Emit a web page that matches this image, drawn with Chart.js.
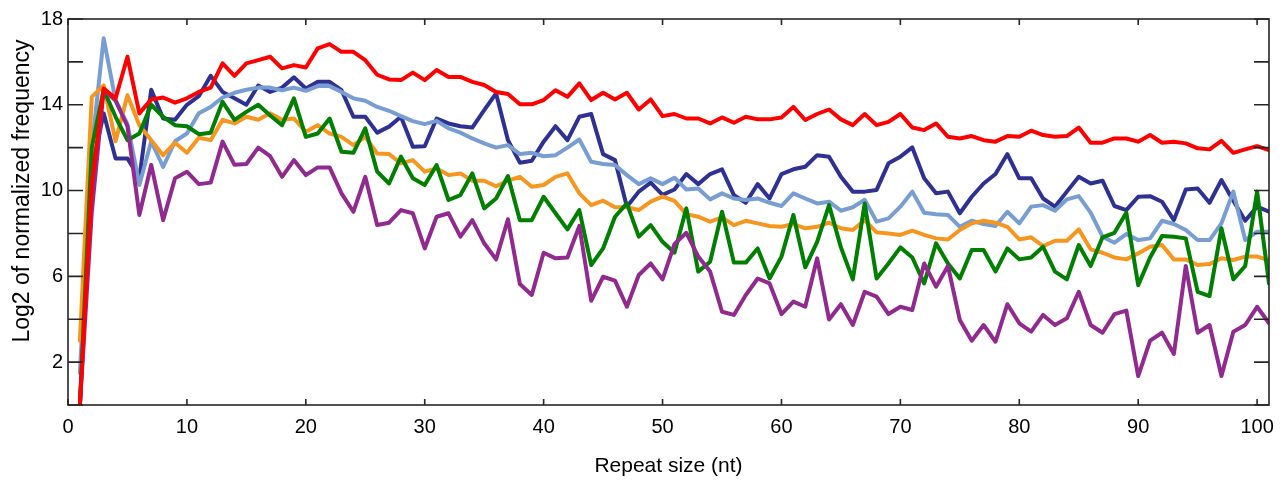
<!DOCTYPE html>
<html>
<head>
<meta charset="utf-8">
<script src="https://cdn.jsdelivr.net/npm/chart.js@4.4.1/dist/chart.umd.min.js"></script>
<style>
html,body{margin:0;padding:0;background:#fff;}
#wrap{width:1287px;height:481px;position:relative;}
</style>
</head>
<body>
<div id="wrap"><canvas id="c" width="1287" height="481"></canvas></div>
<script>
const repeatSizes = [1,2,3,4,5,6,7,8,9,10,11,12,13,14,15,16,17,18,19,20,21,22,23,24,25,26,27,28,29,30,31,32,33,34,35,36,37,38,39,40,41,42,43,44,45,46,47,48,49,50,51,52,53,54,55,56,57,58,59,60,61,62,63,64,65,66,67,68,69,70,71,72,73,74,75,76,77,78,79,80,81,82,83,84,85,86,87,88,89,90,91,92,93,94,95,96,97,98,99,100,101];

const redSeries = [0,10.3,14.76,14.3,16.24,13.6,14.25,14.34,14.1,14.3,14.6,14.8,15.93,15.35,15.93,16.08,16.24,15.7,15.85,15.74,16.63,16.83,16.47,16.47,16.08,15.4,15.18,15.15,15.5,15.15,15.62,15.3,15.3,15.07,14.92,14.6,14.5,14.02,14.02,14.22,14.68,14.37,15.0,14.22,14.56,14.25,14.56,13.78,14.25,13.47,13.57,13.36,13.36,13.13,13.41,13.16,13.44,13.32,13.32,13.41,13.9,13.29,13.57,13.78,13.32,13.05,13.57,13.05,13.2,13.57,12.94,12.82,13.13,12.51,12.43,12.54,12.35,12.28,12.54,12.51,12.79,12.59,12.51,12.54,12.94,12.23,12.23,12.43,12.43,12.28,12.59,12.23,12.28,12.2,11.97,11.92,12.32,11.76,11.92,12.07,11.89];

const navySeries = [0,11,13.6,11.5,11.5,10.6,14.7,13.36,13.3,14.0,14.4,15.35,14.6,14.3,14.0,14.9,14.6,14.8,15.28,14.76,15.07,15.07,14.68,13.44,13.44,12.7,12.98,13.44,12.04,12.07,13.36,13.13,13.0,12.94,13.75,14.53,12.35,11.3,11.39,12.28,13.0,12.35,13.44,13.57,11.7,11.42,9.25,9.95,10.37,9.8,10.05,10.77,10.3,10.77,10.99,9.79,9.43,10.3,9.63,10.77,10.99,11.11,11.65,11.58,10.64,9.95,9.95,10.03,11.27,11.58,12.01,10.57,9.87,9.95,8.94,9.71,10.33,10.77,11.7,10.57,10.57,9.63,9.25,9.95,10.64,10.33,10.46,9.28,9.09,9.71,9.74,9.48,8.62,10.05,10.1,9.43,10.49,9.53,8.59,9.25,9.01];

const lightBlueSeries = [1.5,12,17.1,14.2,13.1,10.26,12.3,11.1,12.3,12.66,13.6,13.9,14.34,14.56,14.7,14.8,14.8,14.68,14.8,14.65,14.87,14.87,14.6,14.3,14.19,13.9,13.72,13.47,13.24,13.1,13.25,12.9,12.7,12.43,12.2,12.0,12.12,11.7,11.76,11.6,11.65,12.0,12.38,11.34,11.24,11.19,10.72,10.3,10.57,10.3,10.6,10.05,10.1,9.59,9.87,9.63,9.56,9.63,9.43,9.28,9.87,9.63,9.4,9.48,9.06,9.22,9.57,8.55,8.7,9.25,9.95,8.97,8.9,8.86,8.31,8.59,8.44,8.35,9.01,8.47,9.25,9.32,9.06,9.59,9.74,8.97,7.85,7.57,7.97,7.69,7.77,8.59,8.44,8.16,7.69,7.69,8.47,9.95,7.69,8.08,8.08];

const orangeSeries = [3,14.37,14.9,12.3,14.45,13.05,12.35,11.65,12.23,11.76,12.46,12.35,13.3,13.13,13.44,13.3,13.6,13.3,13.36,12.74,13.05,12.66,12.5,12.12,12.5,11.73,11.7,11.27,11.42,10.88,11.03,10.72,10.8,10.46,10.46,10.2,10.46,10.64,10.18,10.26,10.64,10.8,9.87,9.32,9.53,9.22,9.22,9.09,9.48,9.72,9.52,8.9,8.78,8.55,8.75,8.39,8.59,8.47,8.35,8.31,8.44,8.24,8.31,8.5,8.24,8.16,8.62,8.05,8.0,7.93,8.13,7.93,7.77,7.72,8.16,8.47,8.59,8.5,8.31,7.72,7.82,7.41,7.66,7.66,8.19,7.26,7.1,6.88,6.79,7.07,7.38,7.46,6.79,6.79,6.53,6.57,6.84,6.76,6.92,6.92,6.76];

const greenSeries = [0,12,14.7,13.44,12.35,12.66,14.0,13.44,13.05,13.0,12.63,12.7,14.14,13.3,13.67,14.0,13.5,13.05,14.3,12.5,12.66,13.36,11.81,11.76,12.9,10.88,10.33,11.58,10.57,10.26,11.19,9.56,9.79,10.8,9.17,9.63,10.68,8.62,8.62,9.71,8.94,8.19,9.09,6.53,7.3,8.78,9.4,7.85,8.39,7.61,7.1,9.17,6.22,6.68,9.01,6.64,6.64,7.3,5.9,6.92,8.86,6.42,7.61,9.32,7.35,5.86,9.4,5.9,6.6,7.35,6.88,5.67,7.54,6.6,5.9,7.23,7.23,6.22,7.3,6.79,6.88,7.38,6.22,5.86,7.46,6.48,7.82,8.03,8.97,5.59,6.88,7.88,7.85,7.77,5.28,5.08,8.24,5.86,6.48,9.95,5.67];

const purpleSeries = [0,9,14.7,14.2,13.0,8.86,11.2,8.62,10.57,10.88,10.3,10.37,12.28,11.2,11.24,12.0,11.6,10.64,11.42,10.72,11.08,11.08,9.87,9.01,10.64,8.39,8.5,9.09,8.94,7.3,8.78,8.94,7.85,8.62,7.54,6.79,8.66,5.64,5.13,7.1,6.84,6.88,8.35,4.86,5.98,5.8,4.58,6.06,6.6,5.86,7.5,8.03,6.92,6.22,4.35,4.2,5.13,5.9,5.67,4.24,4.82,4.58,6.84,3.99,4.7,3.73,5.28,5.05,4.24,4.58,4.43,6.6,5.52,6.48,3.96,3.0,3.73,2.95,4.7,3.81,3.42,4.2,3.73,4.04,5.28,3.73,3.37,4.24,4.4,1.35,3.0,3.37,2.38,6.48,3.37,3.73,1.35,3.42,3.73,4.58,3.81];

const xTickLabels = [0,10,20,30,40,50,60,70,80,90,100];
const yTickLabels = [2,6,10,14,18];
const yTickMarks = [0,2,4,6,8,10,12,14,16,18];

const xTitle = 'Repeat size (nt)';
const yTitle = 'Log2 of normalized frequency';

const FONT = "'Liberation Sans', Arial, Helvetica, sans-serif";

function series(values, color) {
  return {
    data: values.map((v, i) => ({x: repeatSizes[i], y: v})),
    borderColor: color,
    backgroundColor: color,
    borderWidth: 4,
    pointRadius: 0,
    tension: 0,
    borderJoinStyle: 'round',
    borderCapStyle: 'round',
    fill: false
  };
}

const framePlugin = {
  id: 'frame',
  afterDatasetsDraw(chart) {
    const {ctx, chartArea: a, scales} = chart;
    const x = scales.x, y = scales.y;
    ctx.save();
    ctx.strokeStyle = '#262626';
    ctx.lineWidth = 1.6;
    ctx.strokeRect(a.left, a.top, a.right - a.left, a.bottom - a.top);
    ctx.beginPath();
    xTickLabels.forEach(v => {
      const px = x.getPixelForValue(v);
      ctx.moveTo(px, a.bottom); ctx.lineTo(px, a.bottom - 6);
      ctx.moveTo(px, a.top); ctx.lineTo(px, a.top + 6);
    });
    yTickMarks.forEach(v => {
      const py = y.getPixelForValue(v);
      ctx.moveTo(a.left, py); ctx.lineTo(a.left + 15, py);
      ctx.moveTo(a.right, py); ctx.lineTo(a.right - 15, py);
    });
    ctx.stroke();
    ctx.restore();
  },
  afterDraw(chart) {
    const ctx = chart.ctx;
    ctx.save();
    ctx.translate(28.5, 191);
    ctx.rotate(-Math.PI / 2);
    ctx.font = "23px " + FONT;
    ctx.fillStyle = '#000';
    ctx.textAlign = 'center';
    ctx.textBaseline = 'alphabetic';
    ctx.fillText(yTitle, 0, 0);
    ctx.restore();
  }
};

new Chart(document.getElementById('c'), {
  type: 'line',
  data: {
    datasets: [
      series(redSeries, '#ff0000'),
      series(purpleSeries, '#912a8e'),
      series(greenSeries, '#007f00'),
      series(orangeSeries, '#f7961f'),
      series(lightBlueSeries, '#779dd2'),
      series(navySeries, '#2e3192')
    ]
  },
  options: {
    responsive: false,
    animation: false,
    devicePixelRatio: 1,
    layout: { padding: { left: 0, right: 18, top: 19, bottom: 0 } },
    plugins: { legend: { display: false }, tooltip: { enabled: false } },
    scales: {
      x: {
        type: 'linear',
        min: 0,
        max: 101,
        afterBuildTicks: s => { s.ticks = xTickLabels.map(v => ({value: v})); },
        afterFit: s => { s.height = 76; },
        grid: { display: false, drawTicks: false },
        border: { display: false },
        ticks: { font: { family: FONT, size: 20 }, color: '#000', padding: 10, maxRotation: 0, autoSkip: false },
        title: { display: true, text: xTitle, font: { family: FONT, size: 21 }, color: '#000', padding: { top: 0, bottom: 2 } }
      },
      y: {
        type: 'linear',
        min: 0,
        max: 18,
        afterBuildTicks: s => { s.ticks = yTickLabels.map(v => ({value: v})); },
        afterFit: s => { s.width = 68; },
        grid: { display: false, drawTicks: false },
        border: { display: false },
        ticks: { font: { family: FONT, size: 20 }, color: '#000', padding: 5 },
        title: { display: false }
      }
    }
  },
  plugins: [framePlugin]
});
</script>
</body>
</html>
